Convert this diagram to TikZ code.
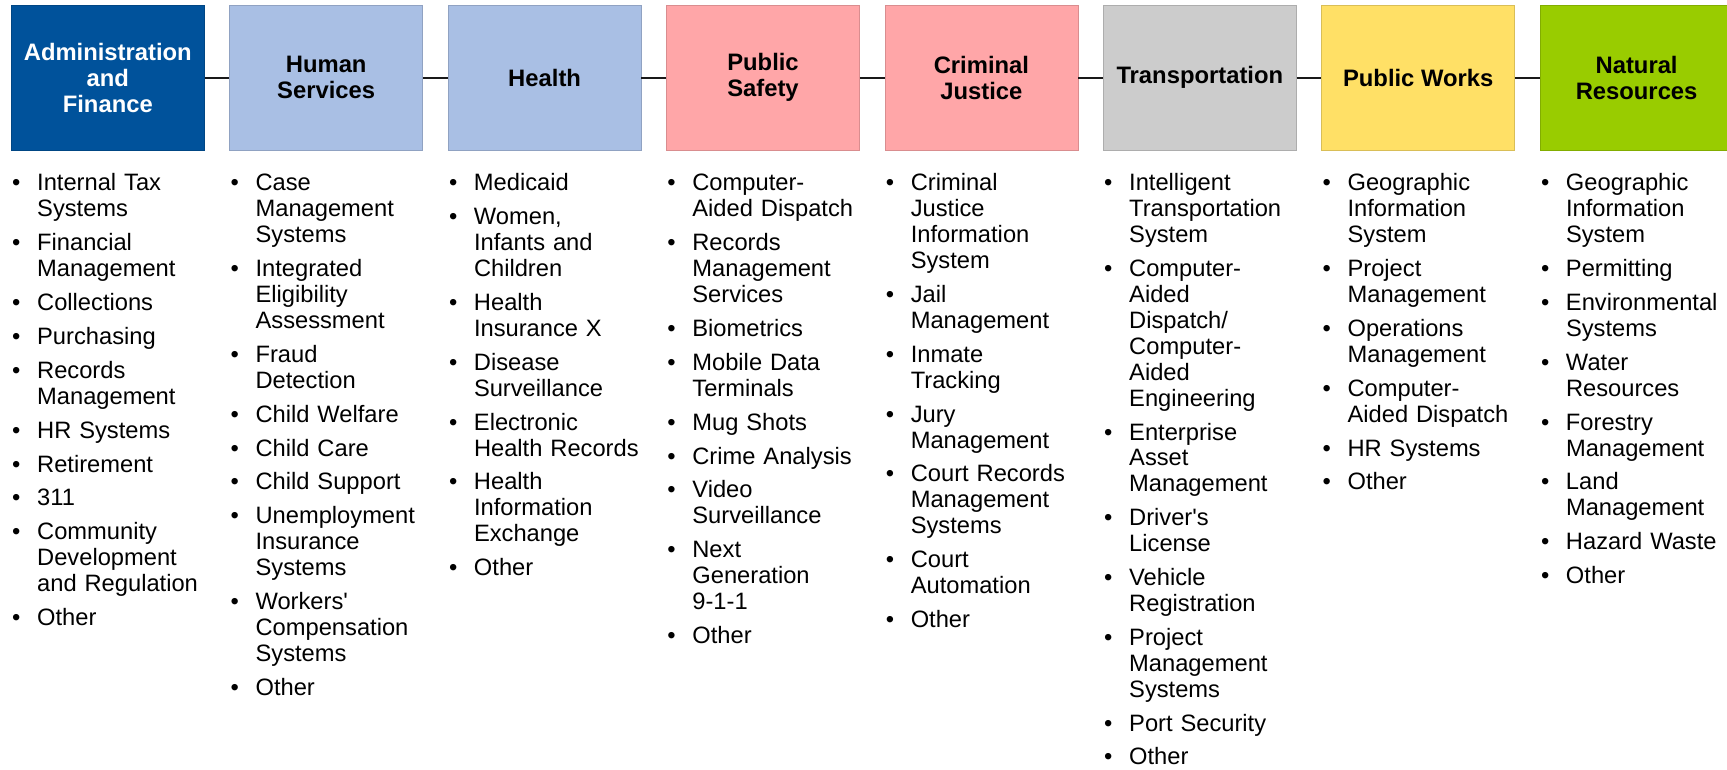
\documentclass[tikz,border=0pt]{standalone}
\usepackage{fontspec}
\setmainfont{Liberation Sans}
\usetikzlibrary{positioning}

\definecolor{adminblue}{RGB}{0,82,155}
\definecolor{paleblue}{RGB}{169,191,228}
\definecolor{palered}{RGB}{255,166,168}
\definecolor{palegray}{RGB}{204,204,204}
\definecolor{paleyellow}{RGB}{255,224,102}
\definecolor{leafgreen}{RGB}{153,204,0}

% one bulleted entry, later lines hang under the text
\newcommand{\sysitem}[1]{\hangindent=26pt\hangafter=1\noindent
  \makebox[26pt][l]{\hspace{1pt}\textbullet}#1\par}

\begin{document}
\begin{tikzpicture}[
    x=1pt, y=-1pt,
    every node/.style={inner sep=0pt},
    catbox/.style={fill=#1, draw=#1!85!black, line width=0.6pt,
        minimum width=193pt, minimum height=145pt, align=center,
        font=\fontsize{23.8}{26}\selectfont\bfseries},
    syslist/.style={anchor=base west, text width=230pt,
        font=\fontsize{23.7}{25.9}\selectfont,
        execute at begin node={\setlength{\parskip}{8pt}}},
    link/.style={line width=1.8pt, black!90},
]
\useasboundingbox (0,0) rectangle (1727,770);

% category boxes along the top
\node[catbox=adminblue, text=white, anchor=north west] (admin) at (11,5)
    {Administration\\and\\Finance};
\node[catbox=paleblue, right=24.8pt of admin] (human) {Human\\Services};
\node[catbox=paleblue, right=24.8pt of human] (health) {Health};
\node[catbox=palered, right=24.8pt of health] (safety) {Public\\Safety};
\node[catbox=palered, right=24.8pt of safety] (justice) {Criminal\\Justice};
\node[catbox=palegray, right=24.8pt of justice] (transport) {Transportation};
\node[catbox=paleyellow, right=24.8pt of transport] (works) {Public Works};
\node[catbox=leafgreen, right=24.8pt of works] (natural) {Natural\\Resources};

% the chain joining them
\foreach \a/\b in {admin/human, human/health, health/safety, safety/justice,
                   justice/transport, transport/works, works/natural}
    \draw[link] (\a) -- (\b);

% system lists, first baseline shared by all columns
\coordinate (listtop) at (0,191);

\node[syslist] (adminlist) at (admin.west |- listtop) {%
  \sysitem{Internal Tax\newline Systems}
  \sysitem{Financial\newline Management}
  \sysitem{Collections}
  \sysitem{Purchasing}
  \sysitem{Records\newline Management}
  \sysitem{HR Systems}
  \sysitem{Retirement}
  \sysitem{311}
  \sysitem{Community\newline Development\newline and Regulation}
  \sysitem{Other}};

\node[syslist] (humanlist) at (human.west |- listtop) {%
  \sysitem{Case\newline Management\newline Systems}
  \sysitem{Integrated\newline Eligibility\newline Assessment}
  \sysitem{Fraud\newline Detection}
  \sysitem{Child Welfare}
  \sysitem{Child Care}
  \sysitem{Child Support}
  \sysitem{Unemployment\newline Insurance\newline Systems}
  \sysitem{Workers\textquotesingle\newline Compensation\newline Systems}
  \sysitem{Other}};

\node[syslist] (healthlist) at (health.west |- listtop) {%
  \sysitem{Medicaid}
  \sysitem{Women,\newline Infants and\newline Children}
  \sysitem{Health\newline Insurance X}
  \sysitem{Disease\newline Surveillance}
  \sysitem{Electronic\newline Health Records}
  \sysitem{Health\newline Information\newline Exchange}
  \sysitem{Other}};

\node[syslist] (safetylist) at (safety.west |- listtop) {%
  \sysitem{Computer-\newline Aided Dispatch}
  \sysitem{Records\newline Management\newline Services}
  \sysitem{Biometrics}
  \sysitem{Mobile Data\newline Terminals}
  \sysitem{Mug Shots}
  \sysitem{Crime Analysis}
  \sysitem{Video\newline Surveillance}
  \sysitem{Next\newline Generation\newline 9-1-1}
  \sysitem{Other}};

\node[syslist] (justicelist) at (justice.west |- listtop) {%
  \sysitem{Criminal\newline Justice\newline Information\newline System}
  \sysitem{Jail\newline Management}
  \sysitem{Inmate\newline Tracking}
  \sysitem{Jury\newline Management}
  \sysitem{Court Records\newline Management\newline Systems}
  \sysitem{Court\newline Automation}
  \sysitem{Other}};

\node[syslist] (transportlist) at (transport.west |- listtop) {%
  \sysitem{Intelligent\newline Transportation\newline System}
  \sysitem{Computer-\newline Aided\newline Dispatch/\newline Computer-\newline Aided\newline Engineering}
  \sysitem{Enterprise\newline Asset\newline Management}
  \sysitem{Driver\textquotesingle s\newline License}
  \sysitem{Vehicle\newline Registration}
  \sysitem{Project\newline Management\newline Systems}
  \sysitem{Port Security}
  \sysitem{Other}};

\node[syslist] (workslist) at (works.west |- listtop) {%
  \sysitem{Geographic\newline Information\newline System}
  \sysitem{Project\newline Management}
  \sysitem{Operations\newline Management}
  \sysitem{Computer-\newline Aided Dispatch}
  \sysitem{HR Systems}
  \sysitem{Other}};

\node[syslist] (naturallist) at (natural.west |- listtop) {%
  \sysitem{Geographic\newline Information\newline System}
  \sysitem{Permitting}
  \sysitem{Environmental\newline Systems}
  \sysitem{Water\newline Resources}
  \sysitem{Forestry\newline Management}
  \sysitem{Land\newline Management}
  \sysitem{Hazard Waste}
  \sysitem{Other}};
\end{tikzpicture}
\end{document}
